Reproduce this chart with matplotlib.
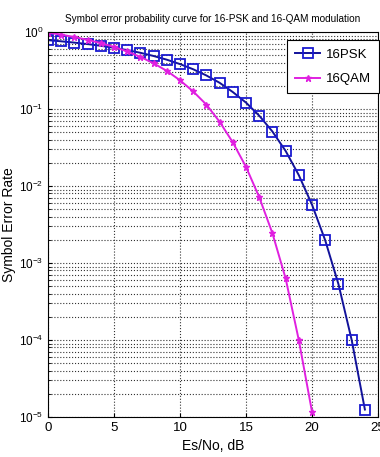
import numpy as np
import matplotlib
matplotlib.use('Agg')
import matplotlib.pyplot as plt

# Es/No in dB
es_no_psk = list(range(0, 25))
es_no_qam = list(range(0, 21))

# symbol error rate
ser_psk = [0.783, 0.757, 0.728, 0.697, 0.662, 0.624, 0.582, 0.537, 0.488, 0.437,
           0.383, 0.328, 0.2725, 0.219, 0.166, 0.121, 0.0819, 0.051, 0.0285, 0.0138,
           0.0057, 0.00196, 0.00053, 1.0e-4, 1.25e-5]
ser_qam = [0.982, 0.924, 0.860, 0.791, 0.717, 0.640, 0.559, 0.475, 0.392, 0.313,
           0.236, 0.169, 0.114, 0.0683, 0.0369, 0.0177, 0.00717, 0.00243, 0.00063, 9.9e-5,
           1.16e-5]

fam = 'Liberation Sans'
plt.rcParams['font.family'] = [fam, 'DejaVu Sans']
plt.rcParams['mathtext.fontset'] = 'custom'
plt.rcParams['mathtext.rm'] = fam

fig = plt.figure(figsize=(3.8, 4.57), dpi=100)
ax = fig.add_axes([0.126, 0.0875, 0.869, 0.8425])

ax.semilogy(es_no_psk, ser_psk, '-', color='#12129a', lw=1.4, marker='s', ms=6.5,
            mfc='none', mec='#1a1ad0', mew=1.3, label='16PSK')
ax.semilogy(es_no_qam, ser_qam, '-', color='#e020e0', lw=1.4, marker='*', ms=5,
            mec='#e020e0', label='16QAM')

ax.set_xlim(0, 25)
ax.set_ylim(1e-5, 1)
ax.set_xticks([0, 5, 10, 15, 20, 25])
ax.grid(True, which='major', ls=':', color='#333333', lw=0.8)
ax.grid(True, which='minor', axis='y', ls=':', color='#333333', lw=0.8)
ax.tick_params(labelsize=9.5, direction='in', length=3)
ax.tick_params(axis='y', labelsize=8.5, pad=3)
ax.tick_params(which='minor', direction='in', length=2)
for s in ax.spines.values():
    s.set_linewidth(0.8)

ax.set_title('Symbol error probability curve for 16-PSK and 16-QAM modulation', fontsize=7.2, pad=7)
ax.set_xlabel('Es/No, dB', fontsize=10, labelpad=4)
ax.set_ylabel('Symbol Error Rate', fontsize=10)
ax.yaxis.set_label_coords(-0.097, 0.5)

leg = ax.legend(loc='upper right', fontsize=9.5, fancybox=False, framealpha=1,
                edgecolor='black', handlelength=1.9, handletextpad=0.4, borderpad=0.6,
                labelspacing=0.95, borderaxespad=0.2, bbox_to_anchor=(1.01, 0.985))
leg.get_frame().set_linewidth(0.8)

fig.savefig('out.png', dpi=100)
